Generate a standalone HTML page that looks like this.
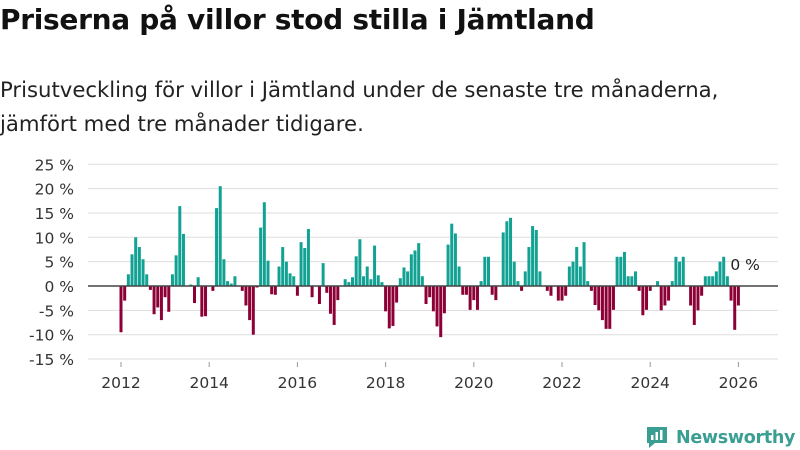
<!DOCTYPE html>
<html><head><meta charset="utf-8"><style>
body{margin:0;width:800px;height:450px;background:#fff;font-family:"DejaVu Sans","Liberation Sans",sans-serif;overflow:hidden;position:relative}
h1{position:absolute;left:0;top:3px;margin:0;font-size:28px;font-weight:bold;color:#111;letter-spacing:-0.3px;white-space:nowrap}
.sub{position:absolute;left:0;top:73px;margin:0;font-size:21.2px;line-height:34px;color:#222;white-space:nowrap}
svg{position:absolute;left:0;top:0}
.logo{position:absolute;left:645px;top:419px;font-size:17.5px;font-weight:bold;color:#3a9e92;white-space:nowrap;letter-spacing:-0.3px}
</style></head><body>
<h1>Priserna på villor stod stilla i Jämtland</h1>
<p class="sub">Prisutveckling för villor i Jämtland under de senaste tre månaderna,<br>jämfört med tre månader tidigare.</p>
<svg id="chart" width="800" height="450"></svg>
<div class="logo"><svg width="24" height="24" viewBox="0 0 24 24" style="position:relative;top:5px;margin-right:7px"><path d="M2 3h20v16H10l-6 5v-5H2z" fill="#3a9e92"/><rect x="6" y="11" width="2.5" height="5" fill="#fff"/><rect x="10.5" y="8" width="2.5" height="8" fill="#fff"/><rect x="15" y="6" width="2.5" height="10" fill="#fff"/></svg>Newsworthy</div>
<script>
const yTicks=[25,20,15,10,5,0,-5,-10,-15];
const xYears=[2012,2014,2016,2018,2020,2022,2024,2026];
const startYear=2012;
const values=[-9.5,-3,2.4,6.5,10,8,5.5,2.4,-0.8,-5.8,-4.4,-7,-2.3,-5.3,2.4,6.3,16.4,10.7,0,0.3,-3.5,1.8,-6.3,-6.2,0,-1,16,20.5,5.5,1,0.5,2,0,-1,-4,-7,-10,-0.3,12,17.2,5.2,
-1.7,-1.8,4,8,5,2.6,2,-2,9,7.8,11.7,-2.3,0,-3.7,4.7,-1.4,-5.7,-8,-2.9,0,1.4,0.8,1.8,6.1,9.6,2,4,1.4,8.3,2.2,0.8,-5.2,-8.7,-8.2,-3.4,1.6,3.8,3,6.5,7.3,8.8,2,
-3.7,-2.3,-5.2,-8.3,-10.5,-5.6,8.5,12.8,10.8,4,-1.8,-1.8,-4.9,-2.9,-4.9,1,6,6,-1.8,-2.9,0,11,13.3,14,5,1,-1,3,8,12.3,11.5,3,0,-1,-2,0,-3,-3,-2,4,5,8,4,9,1,
-1,-3.9,-5,-7,-8.8,-8.8,-4.9,6,6,7,2,2,3,-1,-6,-4.9,-1,0,1,-5,-4,-3,1,6,5,6,0,-4,-8,-5,-2,2,2,2,3,5,6,2,-3,-9,-4];
const lastLabel="0 %";
const NS="http://www.w3.org/2000/svg";
const svg=document.getElementById('chart');
const y=v=>286-v*4.87;
const x=m=>121+m*3.675;
function mk(t,a){const e=document.createElementNS(NS,t);for(const k in a)e.setAttribute(k,a[k]);svg.appendChild(e);return e;}
yTicks.forEach(t=>{
 if(t!==0){const g=mk('line',{x1:88,x2:778,y1:y(t),y2:y(t),stroke:'#dddddd','stroke-width':1});
 
 }
 const l=mk('text',{x:74,y:y(t)+6,'text-anchor':'end','font-size':15.5,fill:'#333'});
 l.textContent=t+' %';
 
 
});
xYears.forEach(yr=>{
 const l=mk('text',{x:x((yr-startYear)*12),y:388,'text-anchor':'middle','font-size':15.5,fill:'#333'});
 l.textContent=yr;
 
 
 const tk=mk('line',{x1:x((yr-startYear)*12),x2:x((yr-startYear)*12),y1:362,y2:367,stroke:'#999'});
 
 
});
values.forEach((v,i)=>{
 if(v===0)return;
 const b=mk('rect',{x:x(i)-1.5,y:Math.min(y(v),y(0)),width:3,height:Math.abs(y(v)-y(0)),fill:v>0?'#11a293':'#8c0036'});
 
 
});
const z=mk('line',{x1:88,x2:778,y1:y(0),y2:y(0),stroke:'#444','stroke-width':1.5});


const ll=mk('text',{x:x(values.length-1)-8,y:270,'font-size':15.5,fill:'#222'});
ll.textContent=lastLabel;


</script>
</body></html>
